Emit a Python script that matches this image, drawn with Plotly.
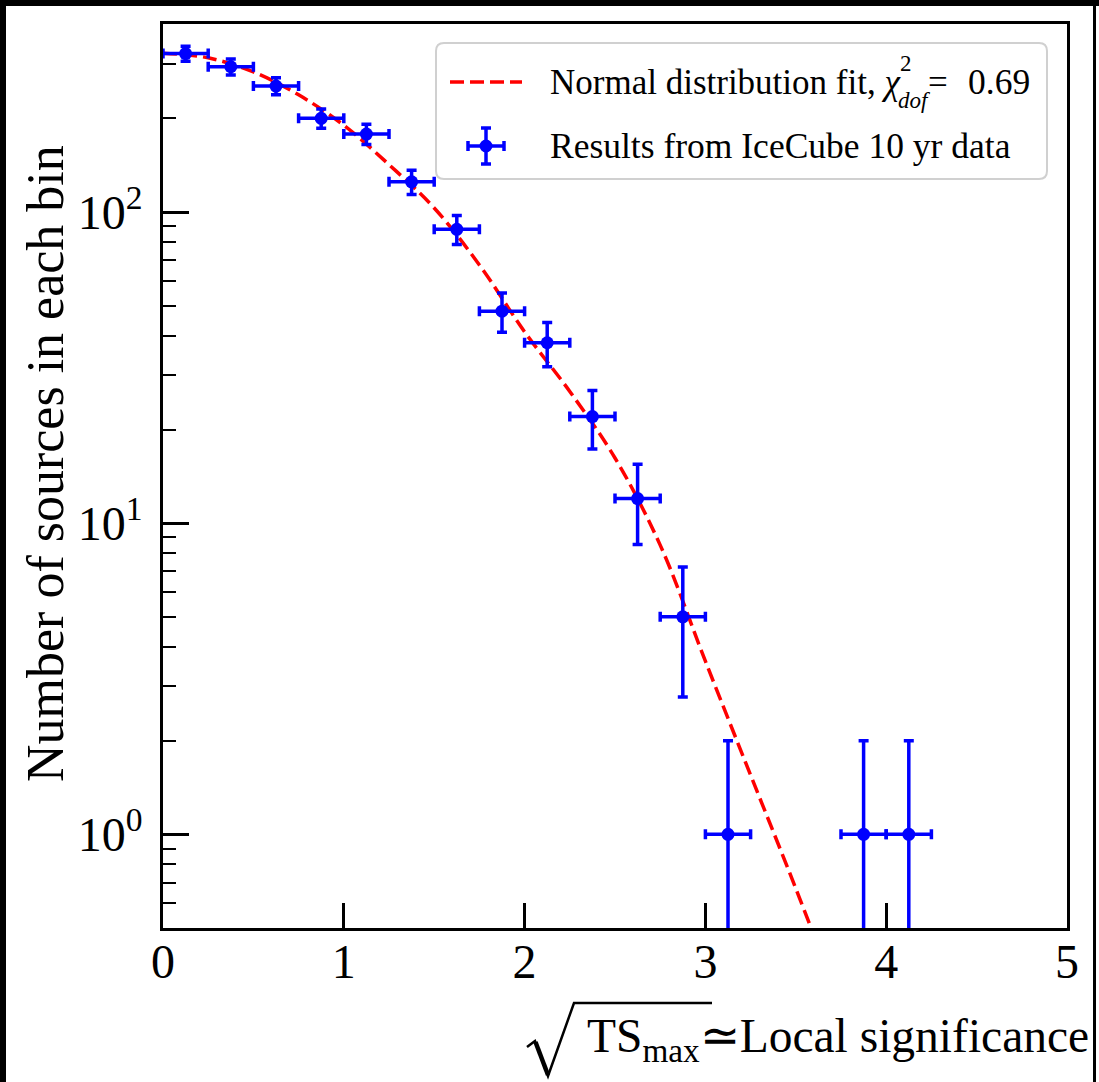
import numpy as np
import plotly.graph_objects as go

# ---- data ----
bin_centers = [0.125, 0.375, 0.625, 0.875, 1.125, 1.375, 1.625, 1.875,
               2.125, 2.375, 2.625, 2.875, 3.125, 3.875, 4.125]
counts = [323, 293, 254, 200, 178, 125, 88, 48, 38, 22, 12, 5, 1, 1, 1]
bin_half_widths = [0.125] * len(bin_centers)
count_errors = list(np.sqrt(np.array(counts, dtype=float)))

fit_x = [0.0, 0.25, 0.5, 0.75, 1.0, 1.25, 1.5, 1.75, 2.0, 2.25, 2.5,
         2.75, 3.0, 3.25, 3.5, 3.75]
fit_y = [324, 313, 282, 238, 190, 142, 103, 67.6, 41.2, 26.5, 16.2,
         8.5, 3.6, 1.55, 0.67, 0.28]

x_ticks = [0, 1, 2, 3, 4, 5]
y_ticks = [1, 10, 100]
y_tick_text = ["10<sup>0</sup>", "10<sup>1</sup>", "10<sup>2</sup>"]

W, H = 1099, 1082
L, R, T, B = 163, 1067, 24, 928
PW, PH = R - L, B - T


def px(x):
    return (x - L) / PW


def py(y):
    return (B - y) / PH


FONT = "Liberation Serif, Times New Roman, serif"
BLUE = "#0000ff"
RED = "#ff0000"

fig = go.Figure()

fig.add_trace(go.Scatter(
    x=fit_x, y=fit_y, mode="lines", line_shape="spline",
    line=dict(color=RED, width=3.5, dash="14px,6px"),
    showlegend=False, hoverinfo="skip"))

fig.add_trace(go.Scatter(
    x=bin_centers, y=counts, mode="markers",
    marker=dict(color=BLUE, size=13),
    error_x=dict(type="data", array=bin_half_widths, color=BLUE,
                 thickness=3.5, width=5),
    error_y=dict(type="data", array=count_errors, color=BLUE,
                 thickness=3.5, width=5),
    showlegend=False))

shapes = []
# black screenshot border
shapes.append(dict(type="rect", xref="paper", yref="paper",
                   x0=px(0), x1=px(6), y0=py(0), y1=py(H),
                   fillcolor="black", line_width=0, layer="above"))
shapes.append(dict(type="rect", xref="paper", yref="paper",
                   x0=px(0), x1=px(W), y0=py(0), y1=py(6),
                   fillcolor="black", line_width=0, layer="above"))
shapes.append(dict(type="rect", xref="paper", yref="paper",
                   x0=px(1093), x1=px(1096), y0=py(0), y1=py(H),
                   fillcolor="black", line_width=0, layer="above"))

# legend box (rounded)
x0, x1, y0, y1, r = px(436), px(1047), py(179), py(43), 8 / PW
path = (f"M {x0+r},{y0} L {x1-r},{y0} Q {x1},{y0} {x1},{y0+r} "
        f"L {x1},{y1-r} Q {x1},{y1} {x1-r},{y1} L {x0+r},{y1} "
        f"Q {x0},{y1} {x0},{y1-r} L {x0},{y0+r} Q {x0},{y0} {x0+r},{y0} Z")
shapes.append(dict(type="path", xref="paper", yref="paper", path=path,
                   fillcolor="rgba(255,255,255,0.8)",
                   line=dict(color="#d0d0d0", width=2), layer="above"))
# legend dashed line
shapes.append(dict(type="line", xref="paper", yref="paper",
                   x0=px(450), x1=px(522), y0=py(82), y1=py(82),
                   line=dict(color=RED, width=3.5, dash="14px,6px"),
                   layer="above"))
# legend errorbar symbol
cx, cy = 486, 146
for (a, b, c, d) in [(cx - 18, cy, cx + 18, cy), (cx, cy - 18, cx, cy + 18),
                     (cx - 18, cy - 5, cx - 18, cy + 5),
                     (cx + 18, cy - 5, cx + 18, cy + 5),
                     (cx - 5, cy - 18, cx + 5, cy - 18),
                     (cx - 5, cy + 18, cx + 5, cy + 18)]:
    shapes.append(dict(type="line", xref="paper", yref="paper",
                       x0=px(a), x1=px(c), y0=py(b), y1=py(d),
                       line=dict(color=BLUE, width=3.5), layer="above"))
shapes.append(dict(type="circle", xref="paper", yref="paper",
                   x0=px(cx - 6.5), x1=px(cx + 6.5),
                   y0=py(cy + 6.5), y1=py(cy - 6.5),
                   fillcolor=BLUE, line_width=0, layer="above"))

# radical sign for the x title
rad = [(527, 1047), (535, 1041), (548, 1076), (574, 1003), (712, 1003)]
rad_path = "M " + " L ".join(f"{px(a)},{py(b)}" for a, b in rad)
shapes.append(dict(type="path", xref="paper", yref="paper", path=rad_path,
                   line=dict(color="black", width=2.5), layer="above"))
shapes.append(dict(type="line", xref="paper", yref="paper",
                   x0=px(535.5), y0=py(1042), x1=px(548), y1=py(1075),
                   line=dict(color="black", width=4.5), layer="above"))

annotations = [
    dict(text="Normal distribution fit, <i>χ</i>", x=px(548), y=py(82),
         xref="paper", yref="paper", xanchor="left", yanchor="middle",
         showarrow=False, font=dict(family=FONT, size=35, color="black")),
    dict(text="2", x=px(898), y=py(64), xref="paper", yref="paper",
         xanchor="left", yanchor="middle", showarrow=False,
         font=dict(family=FONT, size=23, color="black")),
    dict(text="<i>dof</i>", x=px(896), y=py(100), xref="paper", yref="paper",
         xanchor="left", yanchor="middle", showarrow=False,
         font=dict(family=FONT, size=23, color="black")),
    dict(text="=", x=px(926), y=py(82), xref="paper", yref="paper",
         xanchor="left", yanchor="middle", showarrow=False,
         font=dict(family=FONT, size=35, color="black")),
    dict(text="0.69", x=px(1032), y=py(82), xref="paper", yref="paper",
         xanchor="right", yanchor="middle", showarrow=False,
         font=dict(family=FONT, size=35.5, color="black")),
    dict(text="Results from IceCube 10 yr data", x=px(548), y=py(146),
         xref="paper", yref="paper", xanchor="left", yanchor="middle",
         showarrow=False, font=dict(family=FONT, size=35.5, color="black")),
    dict(text="Number of sources in each bin", textangle=-90,
         x=px(45), y=py(464), xref="paper", yref="paper",
         xanchor="center", yanchor="middle", showarrow=False,
         font=dict(family=FONT, size=52, color="black")),
    dict(text="TS<sub>max</sub>≃Local significance",
         x=px(1091), y=py(1039), xref="paper", yref="paper",
         xanchor="right", yanchor="middle", showarrow=False,
         font=dict(family=FONT, size=47.5, color="black")),
]

fig.update_layout(
    width=W, height=H,
    margin=dict(l=L, r=W - R, t=T, b=H - B, pad=0),
    paper_bgcolor="white", plot_bgcolor="white",
    font=dict(family=FONT, color="black"),
    showlegend=False,
    shapes=shapes, annotations=annotations,
    xaxis=dict(range=[0, 5], tickvals=x_ticks, ticks="inside", ticklen=25,
               tickwidth=2.5, tickcolor="black", showline=True,
               linecolor="black", linewidth=2.5, mirror=True,
               showgrid=False, zeroline=False,
               tickfont=dict(family=FONT, size=48, color="black"),
               ticklabelstandoff=-10),
    yaxis=dict(type="log", range=[np.log10(0.5), np.log10(402)],
               tickvals=y_ticks, ticktext=y_tick_text, ticks="inside",
               ticklen=26, tickwidth=3, tickcolor="black",
               showline=True, linecolor="black", linewidth=2.5,
               mirror=True, showgrid=False, zeroline=False,
               tickfont=dict(family=FONT, size=48, color="black"),
               ticklabelstandoff=8,
               minor=dict(ticks="inside", ticklen=13, tickwidth=2,
                          tickcolor="black", dtick="D1", showgrid=False)),
)

fig.write_html("out.html")
